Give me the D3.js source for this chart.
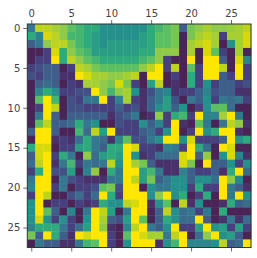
<!DOCTYPE html>
<html>
<head>
<meta charset="utf-8">
<script src="https://cdnjs.cloudflare.com/ajax/libs/d3/7.8.5/d3.min.js"></script>
<style>
html, body { margin: 0; padding: 0; background: #fff; }
svg { display: block; }
text { font-family: "DejaVu Sans", sans-serif; font-size: 10px; }
</style>
</head>
<body>
<svg></svg>
<script>
// cell levels, 0 = darkest, 9 = yellow
const row00 = [3,8,8,7.5,7,6,5.5,5,5,4,4,4,4,4,4,5,5.5,6,6.5,2,6.5,7,7.5,7,7,7.2,7.5,8];
const row01 = [5,3.5,8.5,8,7,5.5,5.5,5,4.5,4,4,4,4,4,4.5,5,6,6,6.5,0,6.5,7.5,8,7.5,1,7.5,7.5,8.5];
const row02 = [2,3,7,8,8,6.5,5.5,5,4.5,4,4.5,4.5,4.5,4.5,4.5,5,6,6,6.5,0,7.5,8,8.5,7.5,0,4,7.5,8.5];
const row03 = [0,0,1,8.5,5,7,6,5.5,4.5,4.5,4.5,4.5,4.5,4.5,5,5,7,7,7,0,7.5,0,8.5,6,1,0,7.5,0];
const row04 = [0,1,1,9,5,8,7,6,5.5,5,5,5,5,5,5.5,6,7,1,0,0,9,0,9,9,2,0,8.5,3.5];
const row05 = [1,1.5,2,2,0,1,8,7.5,6.5,6,6,6,6,6,7,8,9,1,8,0,6,1,9,9,8,0,9,1];
const row06 = [1.5,1,2,2,0.5,0.5,9,8.5,7.5,7.5,7,7,7.5,8,0,9,9,0,1,0,5,1,9,9,2,1,9,1];
const row07 = [0,2,2.5,2,0,1,0.5,7.5,7.5,7,6.5,8.5,6.5,1,0,4.5,8,0,0.5,0,5,1,4,1,2,2,1,1.5];
const row08 = [0,3.5,5,4,1,1,1.5,1.5,9,7,5.5,7,7.5,4,0.5,1.5,3,3.5,0.5,1,1,2,3.5,1.5,2,2,0.5,0.5];
const row09 = [0,6,9,5.5,0,1.5,1,3,3,9,1,3.5,7.5,1,0.5,2,3,4.5,1.5,0,3,2,4,1,3,2.5,3,1];
const row10 = [0,1,9,8,0,1.5,1.5,1,1,1,1,2,1,1.5,0.5,2,4,4.5,2,4,0,1,4,6,6,2.5,0,0];
const row11 = [0,3,9,2,0,2,2,2,2,2,0.5,1.5,2,3,0,0.5,7,1,5,5.5,1,9,3.5,3.5,7.5,9,3,0];
const row12 = [0,6,8,2,2,2.5,5,3,4,0,0,1.5,1,1,4,2,3.5,1,9,0.5,0,6,3,0,3,8,7,0.5];
const row13 = [2,9,9,2,0,0,5.5,2.5,8,4.5,9,1,1,1,2,2.5,1,4,9,0,1,9,4,5,9,9,0.5,0];
const row14 = [0,9,9,0.5,1,0.5,2.5,5,3,2.5,0.5,3.5,6,1.5,1.5,3,4,9,9,4,8.5,1,1,1,2,9,4,5];
const row15 = [5,8.5,8.5,0,1,1,4.5,5,3,2,5,5,9,8.5,1,1,0.5,3.5,3,1,9,5,2.5,0,9,8.5,0,0];
const row16 = [2,8.5,9,1,5,3,0,7,2.5,4.5,5,4.5,9,4,0.5,1,2.5,2.5,2.5,8.5,9,2,7,0,4,8.5,3.5,0.5];
const row17 = [2.5,8,9,0.5,3,5.5,1,3,2.5,3,8,4,9,7.5,6.5,2,0.5,0.5,0.5,8.5,6.5,0,9,2,2,4,1,4];
const row18 = [1,5,9,1.5,1.5,4.5,0,3.5,7,0,5,3,9,9,4.5,5.5,3,0.5,0.5,3.5,2,1,1,2,0.5,5,9,2.5];
const row19 = [3,9,9,0,3,1.5,1,0.5,0.5,0.5,3,3,9,8,4.5,6.5,2,3,4,4,2,4,4,2.5,9,7,3.5,0];
const row20 = [3.5,9,9,1,3,0,1,1,1.5,6,6.5,1.5,9,9,0,4,3,3,4,4,1,5,1,1,9,3,2,0.5];
const row21 = [1,9,8,0,0,1.5,2.5,1,2.5,9,5,1,9,9,9,4,7,9,4,5,0,1,5,0,9,3,9,4];
const row22 = [4,9,0,1,1,0,1,0.5,1,5,4,4,8,8.5,9,0.5,4,6,0,8,0.5,4,0,0,0.5,5,2,2.5];
const row23 = [4,9,6,2,0,3.5,0,3,9,8,4.5,0,3,9,9,0,2,8,4,2.5,3,1,3,0,5,0,0,0];
const row24 = [4,8.5,4,1,4,1,0,4,9,7.5,2,1.5,4.5,9,6,0,2,5,4,2.5,2.5,9,2,0,0.5,3,0.5,2.5];
const row25 = [3.5,5,5,5,3,1,2.5,4.5,9,7,0.5,0,3.5,8,9,3,2,4,9,1,1,4.5,9,4,4.5,1,4.5,1];
const row26 = [6.5,2,9,5,2,0.5,9,8.5,9,9,1,0,6,9,8.5,7.5,7.5,3,8,9,0,2.5,7,9,4,4.5,2,0];
const row27 = [0,3,2,2,0.5,0.5,3,5.5,6,9,1,0,4,9,9,9,0.5,4,5.5,9,3.5,3.5,3.5,4,8,2,2.5,9];
const rows = [row00,row01,row02,row03,row04,row05,row06,row07,row08,row09,row10,row11,row12,row13,
  row14,row15,row16,row17,row18,row19,row20,row21,row22,row23,row24,row25,row26,row27];
const tickVals = [0,5,10,15,20,25];
const levels = [0,1,2,3,4,5,6,7,8,8.5,9];
const levelColors = ["#4a2456","#47407f","#3f5f8b","#33788e","#25908c","#2eaa7d","#5cc063","#8fcb48","#bdd320","#d6d90c","#ffe600"];

let margin = {top: 24, right: 6, bottom: 10.5, left: 27.3},
  width = 257 - margin.left - margin.right,
  height = 258 - margin.top - margin.bottom;

let svg = d3.select("svg").attr("width", 257).attr("height", 258);
let g = svg.append("g").attr("transform", "translate(" + margin.left + "," + margin.top + ")");

// cell centres sit on the integers, like an imshow
let x = d3.scaleLinear().domain([-0.5, 27.5]).range([0, width]);
let y = d3.scaleLinear().domain([-0.5, 27.5]).range([0, height]);

let color = d3.scaleLinear().domain(levels).range(levelColors);

let cells = rows.flatMap((r, i) => r.map((v, j) => ({i: i, j: j, v: v})));

g.selectAll("rect.cell")
  .data(cells)
  .enter().append("rect")
  .attr("class", "cell")
  .attr("x", d => x(d.j - 0.5))
  .attr("y", d => y(d.i - 0.5))
  .attr("width", x(1) - x(0) + 0.3)
  .attr("height", y(1) - y(0) + 0.3)
  .attr("fill", d => color(d.v));

let axisT = d3.axisTop(x).tickValues(tickVals).tickSize(4).tickPadding(3).tickSizeOuter(0);
let axisB = d3.axisBottom(x).tickValues(tickVals).tickSize(4).tickFormat("").tickSizeOuter(0);
let axisL = d3.axisLeft(y).tickValues(tickVals).tickSize(4).tickPadding(3).tickSizeOuter(0);

g.append("g").call(axisT);
g.append("g").attr("transform", "translate(0," + height + ")").call(axisB);
g.append("g").call(axisL);
g.selectAll(".domain").remove();
g.selectAll(".tick line").attr("stroke", "#444").attr("stroke-width", 0.8);
g.selectAll(".tick text").attr("fill", "#444").attr("font-size", 10).attr("font-family", '"DejaVu Sans", sans-serif');

g.append("rect")
  .attr("width", width)
  .attr("height", height)
  .attr("fill", "none")
  .attr("stroke", "#333")
  .attr("stroke-width", 1);
</script>
</body>
</html>
